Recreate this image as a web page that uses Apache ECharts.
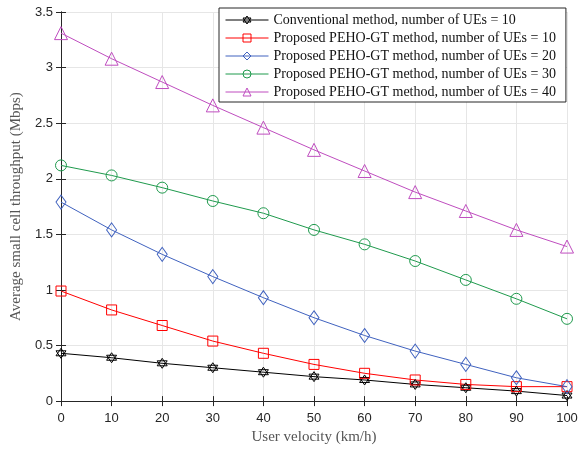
<!DOCTYPE html>
<html>
<head>
<meta charset="utf-8">
<script src="https://cdn.jsdelivr.net/npm/echarts@6/dist/echarts.min.js"></script>
<style>
  html, body { margin: 0; padding: 0; background: #fff; }
  #chart { width: 585px; height: 450px; }
</style>
</head>
<body>
<div id="chart"></div>
<script>
// user velocity (km/h)
var velocity = [0, 10, 20, 30, 40, 50, 60, 70, 80, 90, 100];

// average small cell throughput (Mbps)
var conv10 = [0.43, 0.39, 0.34, 0.30, 0.26, 0.22, 0.19, 0.15, 0.12, 0.09, 0.05];
var peho10 = [0.99, 0.82, 0.68, 0.54, 0.43, 0.33, 0.25, 0.19, 0.15, 0.13, 0.13];
var peho20 = [1.79, 1.54, 1.32, 1.12, 0.93, 0.75, 0.59, 0.45, 0.33, 0.21, 0.13];
var peho30 = [2.12, 2.03, 1.92, 1.80, 1.69, 1.54, 1.41, 1.26, 1.09, 0.92, 0.74];
var peho40 = [3.31, 3.08, 2.87, 2.66, 2.46, 2.26, 2.07, 1.88, 1.71, 1.54, 1.39];

var seriesNames = [
  'Conventional method, number of UEs = 10',
  'Proposed PEHO-GT method, number of UEs = 10',
  'Proposed PEHO-GT method, number of UEs = 20',
  'Proposed PEHO-GT method, number of UEs = 30',
  'Proposed PEHO-GT method, number of UEs = 40'
];

var chart = echarts.init(document.getElementById('chart'));

// star of David marker
var hexagram = 'path://M0,-10L8.66,5L-8.66,5Z M0,10L8.66,-5L-8.66,-5Z';

function pairs(ys) {
  return velocity.map(function (x, i) { return [x, ys[i]]; });
}

function makeSeries(name, ys, color, symbol, size) {
  return {
    name: name,
    type: 'line',
    data: pairs(ys),
    symbol: symbol,
    symbolSize: size,
    color: color,
    lineStyle: { color: color, width: 1 },
    itemStyle: { color: 'rgba(255,255,255,0)', borderColor: color, borderWidth: 1 },
    emphasis: { disabled: true },
    z: 3
  };
}

var axisCol = '#262626';
var gridCol = '#e6e6e6';

var option = {
  animation: false,
  backgroundColor: '#fff',
  grid: { left: 61, right: 18, top: 12, bottom: 46 },
  legend: {
    orient: 'vertical',
    left: 219,
    top: 8,
    padding: [5, 10, 3, 6],
    itemGap: 4,
    itemWidth: 43,
    itemHeight: 10,
    backgroundColor: '#fff',
    borderColor: axisCol,
    borderWidth: 1,
    borderRadius: 0,
    lineStyle: { width: 1 },
    itemStyle: { color: 'rgba(255,255,255,0)', borderWidth: 1 },
    textStyle: { fontFamily: 'Liberation Serif', fontSize: 14, color: '#111' },
    data: seriesNames
  },
  xAxis: [{
    type: 'value',
    min: 0, max: 100, interval: 10,
    name: 'User velocity (km/h)',
    nameLocation: 'middle',
    nameGap: 28,
    nameTextStyle: { fontFamily: 'Liberation Serif', fontSize: 15, color: '#555' },
    axisLine: { show: true, lineStyle: { color: axisCol, width: 1 } },
    axisTick: { show: true, inside: true, length: 5, lineStyle: { color: axisCol } },
    axisLabel: { fontFamily: 'Liberation Sans', fontSize: 13, color: axisCol, margin: 11 },
    splitLine: { show: true, lineStyle: { color: gridCol, width: 1 } }
  }, {
    type: 'value', position: 'top',
    min: 0, max: 100, interval: 10,
    axisLine: { show: true, lineStyle: { color: axisCol, width: 1 } },
    axisTick: { show: true, inside: true, length: 5, lineStyle: { color: axisCol } },
    axisLabel: { show: false },
    splitLine: { show: false }
  }],
  yAxis: [{
    type: 'value',
    min: 0, max: 3.5, interval: 0.5,
    name: 'Average small cell throughput (Mbps)',
    nameLocation: 'middle',
    nameGap: 31,
    nameTextStyle: { fontFamily: 'Liberation Serif', fontSize: 15, color: '#555' },
    axisLine: { show: true, lineStyle: { color: axisCol, width: 1 } },
    axisTick: { show: true, inside: true, length: 5, lineStyle: { color: axisCol } },
    axisLabel: { fontFamily: 'Liberation Sans', fontSize: 13, color: axisCol, margin: 8 },
    splitLine: { show: true, lineStyle: { color: gridCol, width: 1 } }
  }, {
    type: 'value', position: 'right',
    min: 0, max: 3.5, interval: 0.5,
    axisLine: { show: true, lineStyle: { color: axisCol, width: 1 } },
    axisTick: { show: true, inside: true, length: 5, lineStyle: { color: axisCol } },
    axisLabel: { show: false },
    splitLine: { show: false }
  }],
  series: [
    makeSeries(seriesNames[0], conv10, '#000000', hexagram, 10),
    makeSeries(seriesNames[1], peho10, '#ff0000', 'rect', 10),
    makeSeries(seriesNames[2], peho20, '#4062bf', 'diamond', [10, 14]),
    makeSeries(seriesNames[3], peho30, '#1f9a4d', 'circle', 11),
    makeSeries(seriesNames[4], peho40, '#bf4dbf', 'triangle', 13)
  ]
};

chart.setOption(option);
</script>
</body>
</html>
